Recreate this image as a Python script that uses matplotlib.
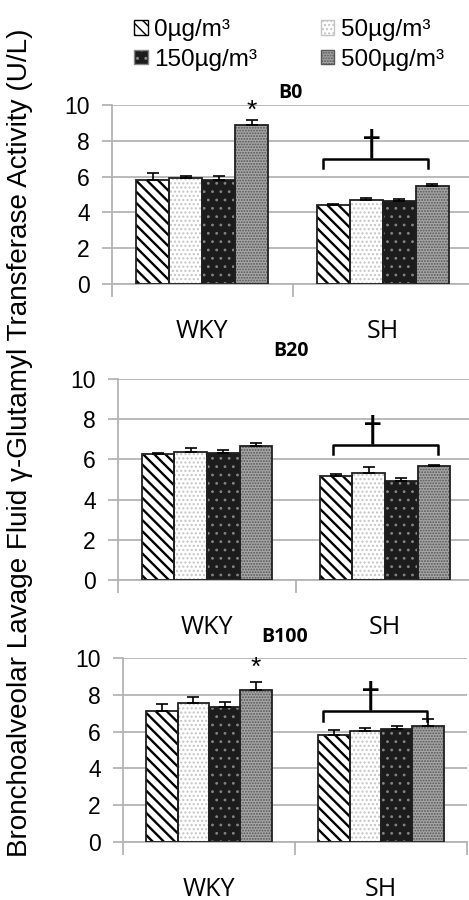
import matplotlib
matplotlib.use("Agg")
import matplotlib.pyplot as plt
from matplotlib.patches import Patch
import numpy as np

# data
groups = ["WKY", "SH"]
doses = ["0\u00b5g/m\u00b3", "50\u00b5g/m\u00b3", "150\u00b5g/m\u00b3", "500\u00b5g/m\u00b3"]
panels = ["B0", "B20", "B100"]

# means per panel: rows = dose, cols = group (WKY, SH)
b0_mean = [[5.82, 4.40], [5.92, 4.70], [5.82, 4.61], [8.88, 5.48]]
b0_err = [[0.37, 0.08], [0.10, 0.10], [0.22, 0.15], [0.28, 0.10]]
b20_mean = [[6.25, 5.19], [6.35, 5.31], [6.32, 4.94], [6.65, 5.65]]
b20_err = [[0.08, 0.08], [0.20, 0.30], [0.15, 0.15], [0.18, 0.09]]
b100_mean = [[7.14, 5.83], [7.55, 6.01], [7.36, 6.14], [8.28, 6.32]]
b100_err = [[0.38, 0.27], [0.31, 0.19], [0.25, 0.18], [0.42, 0.36]]

# significance marks
star_y = [9.65, None, 9.46]
bracket_x = [(0.67, 1.25), (0.71, 1.30), (0.66, 1.27)]
bracket_y = [(6.47, 6.97), (6.25, 6.72), (6.60, 7.13)]
dagger_x = [0.94, 0.93, 0.94]

# styles for the four doses
face = ["white", "white", "#1c1c1c", "#a6a6a6"]
hatch = ["\\\\\\", "....", "..", "......"]
hcol = ["black", "#c4c4c4", "#858585", "#555555"]
hlw = [1.7, 1.0, 0.8, 0.9]

means = [b0_mean, b20_mean, b100_mean]
errs = [b0_err, b20_err, b100_err]

W, H = 469, 900
fig = plt.figure(figsize=(W / 100, H / 100), dpi=100)

# axes boxes in pixels: left, right, top(10), bottom(0)
boxes = [(112, 473, 105, 284), (118, 474, 379, 580), (123, 467, 658, 842)]
title_pos = [(290, 93), (291, 351), (285, 637)]

grid_c = "#b4b4b4"
bw = 0.183
offs = (np.arange(4) - 1.5) * bw
x = np.arange(len(groups))

for i, ax_box in enumerate(boxes):
    l, r, t, b = ax_box
    ax = fig.add_axes([l / W, 1 - b / H, (r - l) / W, (b - t) / H])
    for d in range(4):
        with plt.rc_context({"hatch.linewidth": hlw[d]}):
            ax.bar(x + offs[d], means[i][d], bw, color=face[d], hatch=hatch[d],
                   edgecolor=hcol[d], linewidth=0, zorder=2)
        ax.bar(x + offs[d], means[i][d], bw, fill=False, edgecolor="#202020",
               linewidth=1.3, zorder=3)
        ax.errorbar(x + offs[d], means[i][d],
                    yerr=[np.zeros(2), errs[i][d]], fmt="none",
                    ecolor="black", elinewidth=1.2, capsize=4, capthick=1.2, zorder=4)

    ax.set_xlim(-0.5, 1.5)
    ax.set_ylim(0, 10)
    ax.set_yticks([0, 2, 4, 6, 8, 10])
    ax.yaxis.grid(True, color=grid_c, linewidth=1.3, zorder=0)
    ax.set_axisbelow(True)
    for s in ["top", "right"]:
        ax.spines[s].set_visible(False)
    for s in ["left", "bottom"]:
        ax.spines[s].set_color(grid_c)
        ax.spines[s].set_linewidth(1.3)
    ax.set_xticks([-0.5, 0.5, 1.5])
    ax.set_xticklabels([])
    ax.set_xticks(x, minor=True)
    ax.set_xticklabels(groups, minor=True, fontfamily="Open Sans", fontsize=18)
    ax.tick_params(axis="x", which="major", length=9, width=1.3, color=grid_c)
    ax.tick_params(axis="x", which="minor", length=0, pad=25)
    ax.tick_params(axis="y", length=7, width=1.3, color=grid_c, pad=9,
                   labelsize=16.5)
    for lab in ax.get_yticklabels():
        lab.set_fontfamily("Liberation Sans")

    # significance annotations
    if star_y[i] is not None:
        ax.text(x[0] + offs[3], star_y[i], "*", ha="center", va="center",
                fontsize=19, fontfamily="Liberation Sans")
    x0, x1 = bracket_x[i]
    y0, y1 = bracket_y[i]
    ax.plot([x0, x0, x1, x1], [y0, y1, y1, y0], color="black", lw=1.8,
            solid_joinstyle="round", zorder=5)
    ax.text(dagger_x[i], y1 - 0.15, "\u2020", ha="center", va="bottom",
            fontsize=25, fontfamily="DejaVu Sans", zorder=5)

    tx, ty = title_pos[i]
    fig.text(tx / W, 1 - ty / H, panels[i], ha="center", va="center",
             fontsize=14, fontweight="bold", fontfamily="Open Sans")

# legend
handles = []
for d in range(4):
    with plt.rc_context({"hatch.linewidth": hlw[d]}):
        handles.append(Patch(facecolor=face[d], hatch=hatch[d],
                             edgecolor=hcol[d] if d else "black", linewidth=1.0))
order = [0, 2, 1, 3]
leg = fig.legend([handles[k] for k in order], [doses[k] for k in order],
                 ncol=2, loc="center", bbox_to_anchor=(289 / W, 1 - 45 / H),
                 frameon=False, prop={"family": "Liberation Sans", "size": 17.5},
                 handlelength=0.55, handleheight=0.55, handletextpad=0.28,
                 columnspacing=2.6, labelspacing=0.3)

# y label: fit its length to the span it covers in the reference (y 28..858 px)
ylab = fig.text(20 / W, 1 - 443 / H,
                "Bronchoalveolar Lavage Fluid \u03b3-Glutamyl Transferase Activity (U/L)",
                rotation=90, ha="center", va="center", fontsize=18,
                fontfamily="Liberation Sans")
renderer = fig.canvas.get_renderer()
ext = ylab.get_window_extent(renderer)
ylab.set_fontsize(18 * 830 / ext.height)

fig.savefig("out.png", dpi=100)
